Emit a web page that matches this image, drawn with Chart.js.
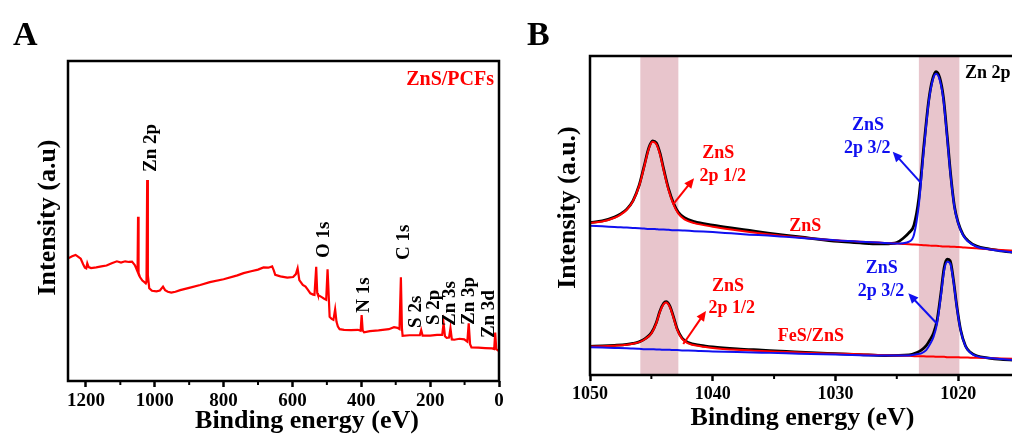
<!DOCTYPE html>
<html>
<head>
<meta charset="utf-8">
<script src="https://cdn.jsdelivr.net/npm/chart.js@4.4.0/dist/chart.umd.min.js"></script>
<style>
  html, body { margin: 0; padding: 0; background: #fff; overflow: hidden; }
  body { width: 1012px; height: 437px; position: relative; }
  #panelA { position: absolute; left: 0; top: 0; }
  #panelB { position: absolute; left: 510px; top: 0; }
</style>
</head>
<body>
<canvas id="panelA" width="510" height="437"></canvas>
<canvas id="panelB" width="520" height="437"></canvas>
<script>
// ---- Panel A: survey spectrum (ZnS/PCFs) ----
const surveyEnergy = [1250, 1240, 1230, 1222, 1215, 1208, 1203, 1199, 1196, 1192, 1185, 1170, 1155, 1140, 1125,
  1110, 1098, 1086, 1075, 1066, 1058, 1053, 1050, 1048.5, 1047, 1043, 1036, 1030, 1026, 1024, 1022, 1020, 1016,
  1008, 995, 985, 976, 970, 962, 952, 940, 926, 900, 868, 840, 800, 760, 742, 720, 700, 684, 670, 659, 654, 650,
  635, 615, 598, 590, 585, 580, 570, 562, 555, 548, 540, 536, 531, 528, 526, 515, 509, 502, 498, 494, 492, 486,
  481, 476, 472, 468, 463, 450, 430, 410, 402, 399, 396, 392, 375, 350, 320, 305, 295, 289, 285, 282, 280, 260,
  240, 230, 226, 222, 200, 180, 165, 161, 157, 152, 145, 141, 137, 130, 115, 101, 92, 88, 84, 80, 60, 40, 20, 14,
  11, 8, 5, 0];
const surveyIntensity = [38.4, 39.0, 39.4, 38.8, 38.2, 36.5, 35.4, 35.2, 36.8, 35.6, 35.3, 35.5, 35.8, 36.1, 36.8,
  37.4, 37.0, 37.4, 37.2, 37.3, 36.2, 35.0, 34.2, 51.3, 33.8, 32.5, 31.4, 30.9, 30.5, 31.0, 62.8, 33.0, 29.0,
  28.2, 28.0, 28.3, 29.5, 28.4, 27.9, 27.6, 27.9, 28.4, 29.1, 30.0, 30.9, 31.8, 33.0, 33.7, 34.3, 34.8, 35.5, 35.4, 35.8, 34.5, 33.2,
  32.7, 32.3, 32.5, 33.4, 35.2, 31.5, 30.0, 29.5, 28.5, 27.4, 27.0, 26.9, 35.7, 27.5, 26.9, 26.2, 25.8, 25.4, 34.9, 25.0, 20.1, 19.4,
  19.1, 22.4, 18.5, 17.0, 16.2, 16.0, 15.9, 16.0, 15.7, 20.6, 15.8, 15.2, 15.6, 15.8, 16.2, 16.8, 16.6, 16.2, 32.4, 16.5, 14.1, 14.3,
  14.3, 14.3, 15.9, 14.2, 14.2, 14.4, 14.4, 18.0, 14.0, 13.5, 13.6, 16.5, 13.0, 12.9, 13.2, 13.0, 12.3, 18.0, 11.5, 10.5, 10.4, 10.3, 10.2, 10.0,
  15.1, 10.0, 9.7, 9.3];
const surveyPeakNames = ['Zn 2p', 'O 1s', 'C 1s', 'N 1s', 'S 2s', 'S 2p', 'Zn 3s', 'Zn 3p', 'Zn 3d'];
const surveyPeakEnergy = [1011, 508, 277, 392, 242, 188, 143, 87, 29];
const surveyPeakLevel = [65.3, 38.4, 37.8, 21.3, 16.6, 17.5, 17.2, 17.5, 13.4];
const surveyTicks = [0, 200, 400, 600, 800, 1000, 1200];

// ---- Panel B: Zn 2p high resolution ----
const upperEnergy = [1050, 1049, 1048, 1047.5, 1047, 1046.5, 1046, 1045.6, 1045.2, 1044.9, 1044.6, 1044.3, 1044,
  1043.6, 1043.2, 1042.8, 1042.3, 1041.5, 1040, 1038.5, 1037, 1035.5, 1034, 1032.5, 1031, 1029.5, 1028, 1026.5,
  1025.5, 1025, 1024.5, 1024, 1023.6, 1023.2, 1022.8, 1022.4, 1022.1, 1021.8, 1021.5, 1021.2, 1020.9, 1020.6,
  1020.3, 1020, 1019.6, 1019.2, 1018.5, 1017.5, 1016.5, 1015];
const upperRaw = [47.8, 48.3, 49.5, 50.5, 52.0, 54.6, 59.4, 65.3, 71.3, 73.4, 72.8, 69.6, 64.6,
  58.4, 53.9, 51.0, 49.3, 48.1, 47.0, 46.1, 45.3, 44.5, 43.8, 43.1, 42.4, 41.8, 41.4, 41.1,
  41.2, 41.5, 42.8, 44.6, 47.0, 55.5, 71.5, 86.0, 92.5, 95.1, 93.2, 87.0, 75.2, 62.5,
  52.8, 47.8, 44.0, 42.1, 40.4, 39.5, 38.9, 38.2];
const upperFit12 = [47.7, 48.1, 49.3, 50.3, 51.8, 54.5, 59.2, 65.0, 71.0, 73.1, 72.4, 69.2, 64.2,
  58.0, 53.5, 50.6, 48.8, 47.6, 46.5, 45.6, 44.8, 44.1, 43.5, 43.0, 42.5, 42.1, 41.8, 41.5,
  41.3, 41.2, 41.1, 41.0, 40.9, 40.8, 40.7, 40.6, 40.5, 40.5, 40.4, 40.3, 40.3, 40.2,
  40.2, 40.1, 40.0, 39.9, 39.7, 39.4, 39.2, 38.9];
const upperFit32 = [46.8, 46.6, 46.4, 46.3, 46.2, 46.1, 46.0, 45.9, 45.8, 45.8, 45.7, 45.6, 45.6,
  45.5, 45.4, 45.4, 45.3, 45.1, 44.8, 44.4, 44.0, 43.7, 43.3, 42.9, 42.5, 42.1, 41.8, 41.5,
  41.3, 41.2, 41.3, 41.8, 44.0, 53.5, 70.5, 85.5, 92.0, 94.4, 92.5, 86.3, 74.5, 62.0,
  52.5, 47.6, 43.8, 41.9, 40.2, 39.4, 38.9, 38.3];

const lowerEnergy = [1050, 1049, 1048, 1047, 1046.5, 1046, 1045.5, 1045, 1044.6, 1044.3, 1044, 1043.8, 1043.5,
  1043.2, 1042.9, 1042.5, 1042, 1041, 1040, 1038, 1036, 1034, 1032, 1030, 1028, 1026, 1024, 1023.4, 1023,
  1022.6, 1022.3, 1022, 1021.7, 1021.4, 1021.15, 1020.9, 1020.65, 1020.4, 1020.1, 1019.8, 1019.4, 1019,
  1018.5, 1017.5, 1016.5, 1015];
const lowerRaw = [9.0, 9.1, 9.3, 9.6, 9.9, 10.4, 11.4, 13.2, 16.4, 20.1, 22.5, 23.0, 21.7,
  18.3, 14.5, 11.6, 10.2, 9.3, 8.8, 8.2, 7.8, 7.4, 7.0, 6.7, 6.4, 6.1, 6.3, 7.0, 7.8,
  9.2, 11.0, 13.2, 17.5, 25.8, 33.5, 36.3, 35.8, 30.3, 21.3, 14.2, 9.1, 7.1,
  6.0, 5.3, 4.9, 4.6];
const lowerFit12 = [8.9, 9.0, 9.2, 9.5, 9.8, 10.3, 11.3, 13.0, 16.2, 19.8, 22.2, 22.7, 21.4,
  18.0, 14.2, 11.3, 9.9, 9.0, 8.5, 7.9, 7.5, 7.2, 6.9, 6.7, 6.5, 6.2, 6.0, 5.9, 5.9,
  5.8, 5.8, 5.8, 5.7, 5.7, 5.7, 5.6, 5.6, 5.6, 5.6, 5.5, 5.5, 5.4,
  5.4, 5.3, 5.2, 5.1];
const lowerFit32 = [8.7, 8.6, 8.5, 8.4, 8.3, 8.2, 8.1, 8.1, 8.0, 8.0, 7.9, 7.9, 7.9,
  7.8, 7.8, 7.7, 7.7, 7.5, 7.4, 7.2, 7.0, 6.8, 6.6, 6.4, 6.2, 6.1, 6.1, 6.5, 6.8,
  7.8, 9.6, 12.0, 16.5, 25.0, 32.5, 35.5, 35.0, 29.8, 21.0, 14.0, 9.0, 7.0,
  5.9, 5.3, 5.0, 4.6];
const bandRanges = [[1045.9, 1042.8], [1023.2, 1019.9]];
const zn2pTicks = [1020, 1030, 1040, 1050];

const serif = "'Liberation Serif', 'Times New Roman', serif";
const RED = '#ff0000';
const BLUE = '#1010f0';
Chart.defaults.font.family = serif;
Chart.defaults.color = '#000';

function pts(xs, ys) {
  return xs.map((x, i) => ({ x: x, y: ys[i] }));
}

// frame, minor ticks, bands, titles and annotations
const panelDecor = {
  id: 'panelDecor',
  beforeDatasetsDraw(chart, args, opts) {
    const { ctx, chartArea, scales: { x } } = chart;
    ctx.save();
    ctx.fillStyle = '#e8c5cc';
    (opts.bands || []).forEach(b => {
      const x1 = x.getPixelForValue(b[0]);
      const x2 = x.getPixelForValue(b[1]);
      ctx.fillRect(Math.min(x1, x2), chartArea.top, Math.abs(x2 - x1), chartArea.bottom - chartArea.top);
    });
    ctx.restore();
  },
  afterDraw(chart, args, opts) {
    const { ctx, chartArea: { left, right, top, bottom }, scales: { x, y } } = chart;
    ctx.save();
    ctx.strokeStyle = '#000';
    ctx.lineWidth = 2.5;
    ctx.strokeRect(left, top, right - left, bottom - top);

    // minor ticks
    ctx.lineWidth = 2;
    const start = Math.ceil(x.min / opts.minorStep) * opts.minorStep;
    for (let v = start; v <= x.max; v += opts.minorStep) {
      if (v % opts.majorStep === 0) continue;
      const px = x.getPixelForValue(v);
      ctx.beginPath();
      ctx.moveTo(px, bottom);
      ctx.lineTo(px, bottom + 4);
      ctx.stroke();
    }

    // panel letter
    ctx.fillStyle = '#000';
    ctx.font = 'bold 34px ' + serif;
    ctx.textAlign = 'left';
    ctx.textBaseline = 'alphabetic';
    ctx.fillText(opts.letter, opts.letterAt[0], opts.letterAt[1]);

    // axis titles
    ctx.font = 'bold 26px ' + serif;
    ctx.textAlign = 'center';
    ctx.textBaseline = 'middle';
    ctx.fillText('Binding energy (eV)', opts.xTitleAt[0], opts.xTitleAt[1]);
    ctx.save();
    ctx.translate(opts.yTitleAt[0], opts.yTitleAt[1]);
    ctx.rotate(-Math.PI / 2);
    ctx.fillText(opts.yTitle, 0, 0);
    ctx.restore();

    // text labels at data positions
    (opts.labels || []).forEach(l => {
      const px = x.getPixelForValue(l.x);
      const py = y.getPixelForValue(l.y);
      ctx.save();
      ctx.fillStyle = l.color || '#000';
      ctx.font = 'bold ' + (l.size || 18) + 'px ' + serif;
      ctx.textBaseline = 'middle';
      ctx.translate(px, py);
      if (l.rotate) {
        ctx.rotate(-Math.PI / 2);
        ctx.textAlign = 'left';
      } else {
        ctx.textAlign = l.align || 'center';
      }
      ctx.fillText(l.text, 0, 0);
      ctx.restore();
    });

    // arrows
    (opts.arrows || []).forEach(a => {
      const x1 = x.getPixelForValue(a.from[0]), y1 = y.getPixelForValue(a.from[1]);
      const x2 = x.getPixelForValue(a.to[0]), y2 = y.getPixelForValue(a.to[1]);
      const ang = Math.atan2(y2 - y1, x2 - x1);
      ctx.strokeStyle = a.color;
      ctx.fillStyle = a.color;
      ctx.lineWidth = 2;
      ctx.beginPath();
      ctx.moveTo(x1, y1);
      ctx.lineTo(x2 - 6 * Math.cos(ang), y2 - 6 * Math.sin(ang));
      ctx.stroke();
      ctx.beginPath();
      ctx.moveTo(x2, y2);
      ctx.lineTo(x2 - 10 * Math.cos(ang) + 4.5 * Math.sin(ang), y2 - 10 * Math.sin(ang) - 4.5 * Math.cos(ang));
      ctx.lineTo(x2 - 10 * Math.cos(ang) - 4.5 * Math.sin(ang), y2 - 10 * Math.sin(ang) + 4.5 * Math.cos(ang));
      ctx.closePath();
      ctx.fill();
    });
    ctx.restore();
  }
};

function xAxis(min, max, tickList, axisHeight, tickSize) {
  return {
    type: 'linear', reverse: true, min: min, max: max,
    afterFit: s => { s.height = axisHeight; },
    afterBuildTicks: s => { s.ticks = tickList.map(v => ({ value: v })); },
    ticks: {
      autoSkip: false, maxRotation: 0, padding: 3,
      callback: v => String(v),
      color: '#000', font: { family: serif, size: tickSize, weight: 'bold' }
    },
    grid: { display: true, drawOnChartArea: false, tickLength: 6, tickWidth: 2.5, tickColor: '#000' },
    border: { display: false },
    title: { display: false }
  };
}

const surveyLabels = surveyPeakNames.map((n, i) => ({
  text: n, x: surveyPeakEnergy[i], y: surveyPeakLevel[i], rotate: true, size: 19
}));
surveyLabels.push({ text: 'ZnS/PCFs', x: 14.6, y: 94.1, color: RED, align: 'right', size: 20 });

new Chart(document.getElementById('panelA'), {
  type: 'line',
  data: {
    datasets: [{
      data: pts(surveyEnergy, surveyIntensity),
      borderColor: RED, borderWidth: 2.2, pointRadius: 0, tension: 0, fill: false
    }]
  },
  options: {
    responsive: false, animation: false,
    layout: { padding: { left: 68, top: 61, right: 11, bottom: 0 } },
    plugins: {
      legend: { display: false }, tooltip: { enabled: false },
      panelDecor: {
        letter: 'A', letterAt: [13, 45],
        xTitleAt: [307, 421],
        yTitle: 'Intensity (a.u)', yTitleAt: [48.5, 217.5],
        minorStep: 100, majorStep: 200,
        labels: surveyLabels
      }
    },
    scales: {
      x: xAxis(0, 1252, surveyTicks, 56, 19),
      y: { display: false, min: 0, max: 100 }
    }
  },
  plugins: [panelDecor]
});

const lineB = (xs, ys, color, width, order) => ({
  data: pts(xs, ys), borderColor: color, borderWidth: width, pointRadius: 0,
  cubicInterpolationMode: 'monotone', fill: false, order: order
});

new Chart(document.getElementById('panelB'), {
  type: 'line',
  data: {
    datasets: [
      lineB(upperEnergy, upperRaw, '#000', 2.8, 3),
      lineB(upperEnergy, upperFit12, RED, 2, 2),
      lineB(upperEnergy, upperFit32, BLUE, 2, 1),
      lineB(lowerEnergy, lowerRaw, '#000', 2.8, 3),
      lineB(lowerEnergy, lowerFit12, RED, 2, 2),
      lineB(lowerEnergy, lowerFit32, BLUE, 2, 1)
    ]
  },
  options: {
    responsive: false, animation: false,
    layout: { padding: { left: 80, top: 56, right: 10.5, bottom: 0 } },
    plugins: {
      legend: { display: false }, tooltip: { enabled: false },
      panelDecor: {
        letter: 'B', letterAt: [17, 45],
        xTitleAt: [292.5, 418],
        yTitle: 'Intensity (a.u.)', yTitleAt: [58.5, 207.5],
        minorStep: 5, majorStep: 10,
        bands: bandRanges,
        labels: [
          { text: 'ZnS', x: 1039.54, y: 69.4, color: RED },
          { text: '2p 1/2', x: 1039.18, y: 62.2, color: RED },
          { text: 'ZnS', x: 1027.34, y: 78.4, color: BLUE },
          { text: '2p 3/2', x: 1027.41, y: 71.1, color: BLUE },
          { text: 'ZnS', x: 1032.45, y: 46.7, color: RED },
          { text: 'ZnS', x: 1038.75, y: 27.9, color: RED },
          { text: '2p 1/2', x: 1038.44, y: 20.9, color: RED },
          { text: 'ZnS', x: 1026.23, y: 33.4, color: BLUE },
          { text: '2p 3/2', x: 1026.28, y: 26.1, color: BLUE },
          { text: 'FeS/ZnS', x: 1032.0, y: 12.2, color: RED },
          { text: 'Zn 2p', x: 1019.44, y: 94.6, color: '#000', align: 'left' }
        ],
        arrows: [
          { from: [1043.21, 53.6], to: [1041.52, 61.7], color: RED },
          { from: [1023.05, 60.3], to: [1025.33, 70.0], color: BLUE },
          { from: [1042.4, 9.7], to: [1040.55, 20.1], color: RED },
          { from: [1021.7, 16.0], to: [1024.06, 25.6], color: BLUE }
        ]
      }
    },
    scales: {
      x: xAxis(1015, 1050, zn2pTicks, 62, 18),
      y: { display: false, min: 0, max: 100 }
    }
  },
  plugins: [panelDecor]
});
</script>
</body>
</html>
